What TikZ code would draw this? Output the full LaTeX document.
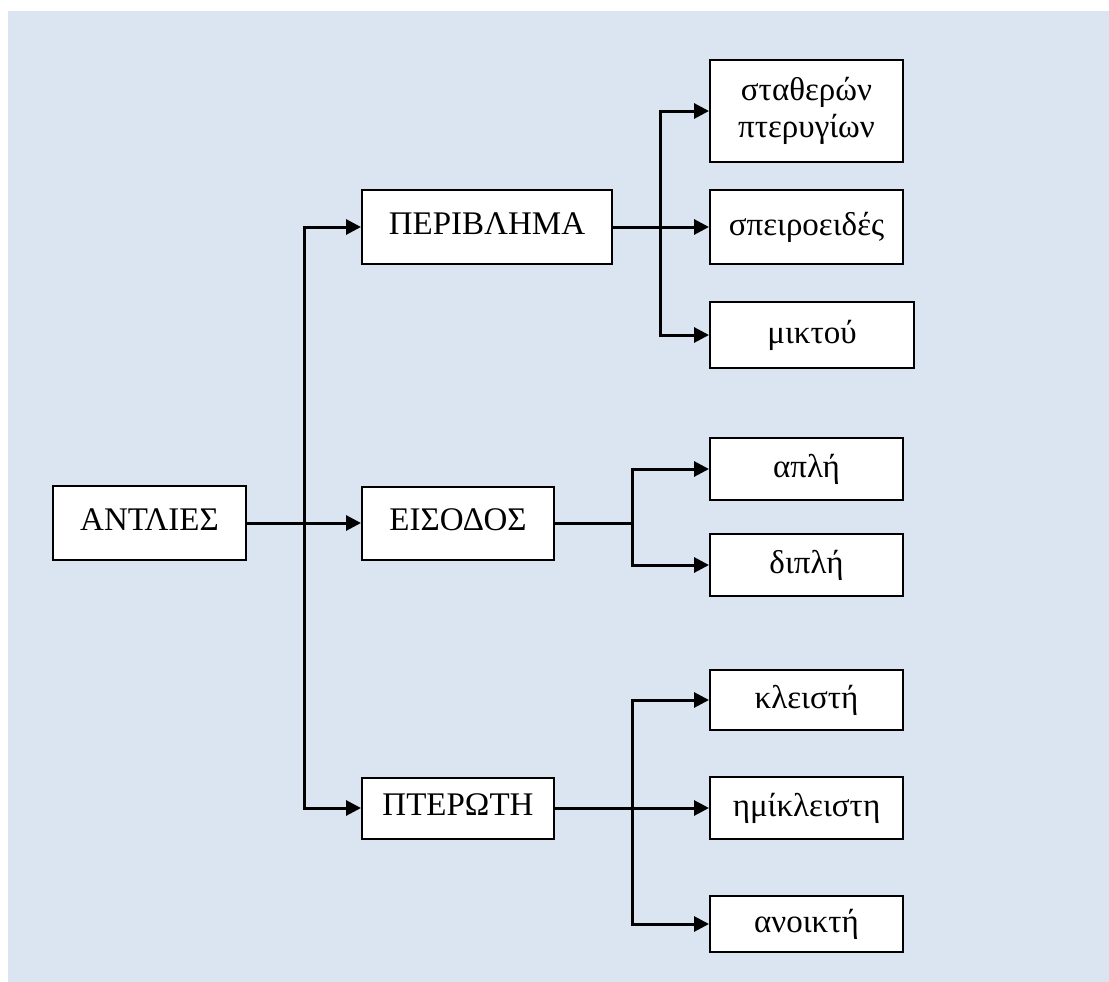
\documentclass[tikz,border=0pt]{standalone}
\usepackage{fontspec}
\setmainfont{Liberation Serif}
\usetikzlibrary{arrows.meta}
\definecolor{bgblue}{RGB}{219,229,241}
\tikzset{
  box/.style={draw=black, line width=2pt, fill=white, rectangle, inner sep=0pt,
    font=\fontsize{33}{37}\selectfont, align=center},
  conn/.style={line width=3pt, line join=miter},
  arr/.style={conn, -{Triangle[length=15pt,width=15pt]}}
}
\newcommand{\upcap}[1]{\raisebox{6pt}{#1}}
\begin{document}
\begin{tikzpicture}[x=1pt,y=-1pt]
\useasboundingbox (0,0) rectangle (1109,982);
\fill[bgblue] (8,11) rectangle (1109,982);

\node[box, minimum width=193pt, minimum height=74pt] (antl) at (149.5,523) {\upcap{ΑΝΤΛΙΕΣ}};
\node[box, minimum width=250pt, minimum height=74pt] (peri) at (487,227) {\upcap{ΠΕΡΙΒΛΗΜΑ}};
\node[box, minimum width=192pt, minimum height=73pt] (eis) at (458,523) {\upcap{ΕΙΣΟΔΟΣ}};
\node[box, minimum width=192pt, minimum height=61pt] (pter) at (458,808) {\upcap{ΠΤΕΡΩΤΗ}};

\node[box, minimum width=193pt, minimum height=102pt] (stath) at (806.5,111) {σταθερών\\πτερυγίων};
\node[box, minimum width=193pt, minimum height=74pt] (speir) at (806.5,227) {σπειροειδές};
\node[box, minimum width=204pt, minimum height=66pt] (mikt) at (812,335) {μικτού};
\node[box, minimum width=193pt, minimum height=62pt] (apli) at (806.5,469) {απλή};
\node[box, minimum width=193pt, minimum height=62pt] (dipli) at (806.5,565) {διπλή};
\node[box, minimum width=193pt, minimum height=60pt] (kleis) at (806.5,700) {κλειστή};
\node[box, minimum width=193pt, minimum height=62pt] (imikl) at (806.5,808) {ημίκλειστη};
\node[box, minimum width=193pt, minimum height=56pt] (anoik) at (806.5,924) {ανοικτή};

% main trunk
\coordinate (j1) at (304,523);
\draw[arr] (antl.east) -- (eis.west);
\draw[arr] (j1) |- (peri.west);
\draw[arr] (j1) |- (pter.west);

% ΠΕΡΙΒΛΗΜΑ branch
\coordinate (j2) at (660,227);
\draw[arr] (peri.east) -- (speir.west);
\draw[arr] (j2) |- (stath.west);
\draw[arr] (j2) |- (mikt.west);

% ΕΙΣΟΔΟΣ branch
\coordinate (j3) at (632,523);
\draw[conn] (eis.east) -- (j3);
\draw[arr] (j3) |- (apli.west);
\draw[arr] (j3) |- (dipli.west);

% ΠΤΕΡΩΤΗ branch
\coordinate (j4) at (632,808);
\draw[arr] (pter.east) -- (imikl.west);
\draw[arr] (j4) |- (kleis.west);
\draw[arr] (j4) |- (anoik.west);
\end{tikzpicture}
\end{document}
